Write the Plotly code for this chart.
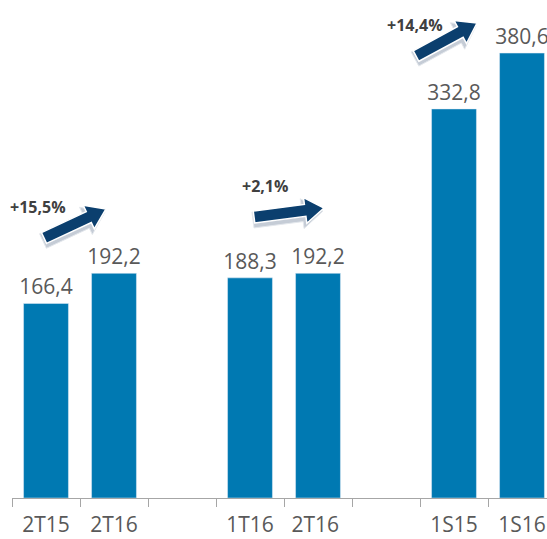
import math
import plotly.graph_objects as go

categories = ["2T15", "2T16", " ", "1T16", "2T16 ", "  ", "1S15", "1S16"]
values = [166.4, 192.2, None, 188.3, 192.2, None, 332.8, 380.6]
labels = ["166,4", "192,2", "", "188,3", "192,2", "", "332,8", "380,6"]
growth_labels = ["+15,5%", "+2,1%", "+14,4%"]

W, H = 547, 539
ML, MR, MT, MB = 12, 0, 0, 41
PW, PH = W - ML - MR, H - MT - MB
CAT_PX = 68.0
X_END = PW / CAT_PX - 0.5

BAR = "#0079B2"
GRAY = "#595959"

fig = go.Figure(go.Bar(
    x=categories, y=values, text=labels, textposition="outside",
    marker_color=BAR, width=0.66, cliponaxis=False, constraintext="none",
    textfont=dict(family="Open Sans", size=21, color=GRAY),
))


def px2paper(px, py):
    return (px - ML) / PW, (PH + MT - py) / PH


def arrow_path(tail, tip, w=6, h=13, L=19, dx=0, dy=0):
    tx, ty = tail[0] + dx, tail[1] + dy
    hx, hy = tip[0] + dx, tip[1] + dy
    ln = math.hypot(hx - tx, hy - ty)
    ux, uy = (hx - tx) / ln, (hy - ty) / ln
    nx, ny = -uy, ux
    neck = (hx - ux * L, hy - uy * L)
    pts = [
        (tx + nx * w, ty + ny * w),
        (neck[0] + nx * w, neck[1] + ny * w),
        (neck[0] + nx * h, neck[1] + ny * h),
        (hx, hy),
        (neck[0] - nx * h, neck[1] - ny * h),
        (neck[0] - nx * w, neck[1] - ny * w),
        (tx - nx * w, ty - ny * w),
    ]
    pp = [px2paper(x, y) for x, y in pts]
    return "M " + " L ".join(f"{x:.5f},{y:.5f}" for x, y in pp) + " Z"


arrows = [((44, 238), (106, 209), (38, 207)),
          ((254, 217), (324, 208), (265, 186)),
          ((416, 56), (477, 23), (415, 25))]

shapes = []
for (tail, tip, _) in arrows:
    shapes.append(dict(type="path", xref="paper", yref="paper",
                       path=arrow_path(tail, tip, w=8, h=15, L=21, dx=-1, dy=3),
                       fillcolor="#C5CCD6", line=dict(color="#E3E7EC", width=1)))
    shapes.append(dict(type="path", xref="paper", yref="paper",
                       path=arrow_path(tail, tip),
                       fillcolor="#0B3F6E", line=dict(color="#FFFFFF", width=1.5)))

annotations = []
for (tail, tip, tpos), g in zip(arrows, growth_labels):
    x, y = px2paper(*tpos)
    annotations.append(dict(x=x, y=y, xref="paper", yref="paper", text=f"<b>{g}</b>",
                            xanchor="center", yanchor="middle", showarrow=False,
                            font=dict(family="Open Sans", size=16, color="#404040")))

fig.update_layout(
    width=W, height=H, margin=dict(l=ML, r=MR, t=MT, b=MB),
    plot_bgcolor="white", paper_bgcolor="white", showlegend=False,
    shapes=shapes, annotations=annotations,
    xaxis=dict(type="category", tickson="boundaries", ticks="outside", ticklen=8,
               tickcolor="#A6A6A6", showline=True, linecolor="#A6A6A6", linewidth=1,
               showgrid=False, tickfont=dict(family="Open Sans", size=21, color=GRAY),
               ticklabelstandoff=8, automargin=False, range=[-0.5, X_END]),
    yaxis=dict(visible=False, range=[0, 426.0], showgrid=False, automargin=False),
)

fig.write_html("out.html")
